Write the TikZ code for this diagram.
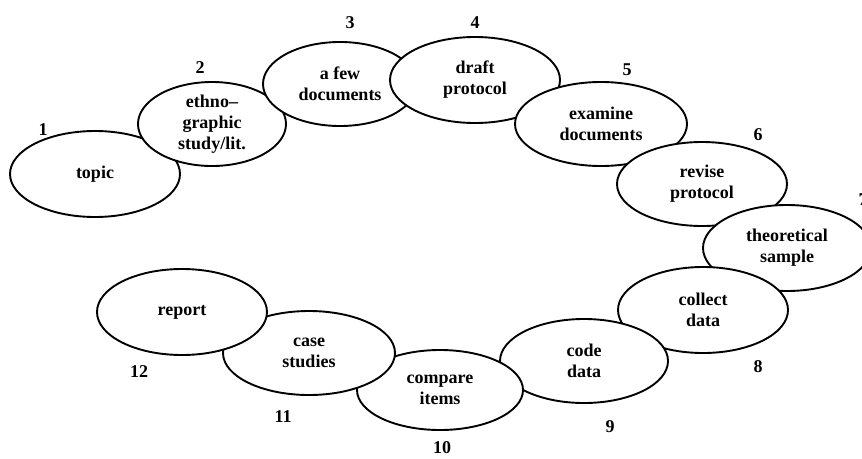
\documentclass[tikz,border=0pt]{standalone}
\usepackage{fontspec}
\setmainfont{Liberation Serif}
\usetikzlibrary{shapes.geometric}
\begin{document}
\begin{tikzpicture}[x=1pt,y=-1pt,
  stage/.style={ellipse, draw=black, fill=white, line width=1.9pt,
    inner sep=0pt, align=center, font=\fontsize{18}{21}\selectfont\bfseries},
  num/.style={inner sep=0pt, font=\fontsize{18}{21}\selectfont\bfseries}]
\useasboundingbox (0,0) rectangle (862,458);
\clip (0,0) rectangle (862,458);

% stages of the research cycle, each drawn over the previous one
\node[stage, minimum width=170pt, minimum height=86pt] (s1) at (95,174) {topic};
\node[stage, minimum width=148pt, minimum height=84pt] (s2) at (212,124) {ethno--\\graphic\\study/lit.};
\node[stage, minimum width=154pt, minimum height=84pt] (s3) at (340,84) {a few\\documents};
\node[stage, minimum width=170pt, minimum height=86pt] (s4) at (475,80) {draft\\protocol};
\node[stage, minimum width=172pt, minimum height=84pt] (s5) at (601,124) {examine\\documents};
\node[stage, minimum width=170pt, minimum height=84pt] (s6) at (702,184) {revise\\protocol};
\node[stage, minimum width=168pt, minimum height=86pt] (s7) at (787,248) {theoretical\\sample};
\node[stage, minimum width=170pt, minimum height=86pt] (s8) at (703,310) {collect\\data};
\node[stage, minimum width=168pt, minimum height=84pt] (s9) at (584,361) {code\\data};
\node[stage, minimum width=166pt, minimum height=80pt] (s10) at (440,390) {compare\\items};
\node[stage, minimum width=172pt, minimum height=84pt] (s11) at (309,353) {case\\studies};
\node[stage, minimum width=170pt, minimum height=86pt] (s12) at (182,312) {report};

% step numbers
\node[num] (n1) at (43,130) {1};
\node[num] (n2) at (200,68) {2};
\node[num] (n3) at (350,23) {3};
\node[num] (n4) at (475,23) {4};
\node[num] (n5) at (627,70) {5};
\node[num] (n6) at (758,135) {6};
\node[num] (n7) at (863,200) {7};
\node[num] (n8) at (758,367) {8};
\node[num] (n9) at (610,427) {9};
\node[num] (n10) at (442,448) {10};
\node[num] (n11) at (283,417) {11};
\node[num] (n12) at (139,372) {12};
\end{tikzpicture}
\end{document}
